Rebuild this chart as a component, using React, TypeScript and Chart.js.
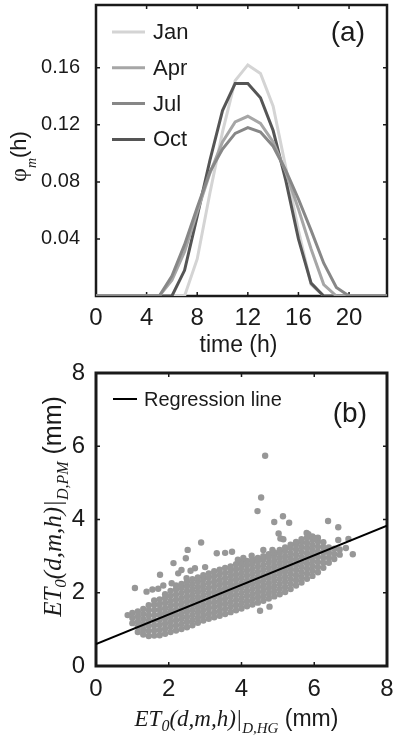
import React, { useEffect, useRef } from 'react';
import { Chart, registerables } from 'chart.js';

Chart.register(...registerables);

// ---------- panel (a) data ----------
const hours = [0, 1, 2, 3, 4, 5, 6, 7, 8, 9, 10, 11, 12, 13, 14, 15, 16, 17, 18, 19, 20, 21, 22, 23];
const janPhi = [0, 0, 0, 0, 0, 0, 0, 0, 0.026, 0.072, 0.115, 0.151, 0.162, 0.156, 0.133, 0.09, 0.046, 0.008, 0, 0, 0, 0, 0, 0];
const aprPhi = [0, 0, 0, 0, 0, 0, 0.011, 0.031, 0.059, 0.086, 0.108, 0.122, 0.126, 0.121, 0.108, 0.087, 0.061, 0.033, 0.008, 0, 0, 0, 0, 0];
const julPhi = [0, 0, 0, 0, 0, 0, 0.014, 0.036, 0.062, 0.087, 0.103, 0.114, 0.118, 0.115, 0.105, 0.088, 0.068, 0.046, 0.023, 0.006, 0, 0, 0, 0];
const octPhi = [0, 0, 0, 0, 0, 0, 0, 0.018, 0.056, 0.095, 0.13, 0.149, 0.149, 0.139, 0.116, 0.081, 0.04, 0.009, 0, 0, 0, 0, 0, 0];
const monthNames = ['Jan', 'Apr', 'Jul', 'Oct'];
const phiTicks = [0.04, 0.08, 0.12, 0.16];
const hourTicks = [0, 4, 8, 12, 16, 20];

// ---------- panel (b) data ----------
const etTicks = [0, 2, 4, 6, 8];
const regressionHg = [0, 8];
const regressionPm = [0.6, 3.83];
const cloudHg = [1.0, 1.15, 1.3, 1.45, 1.6, 1.75, 1.9, 2.05, 2.2, 2.35, 2.5, 2.65, 2.8, 2.95, 3.1, 3.25, 3.4, 3.55, 3.7, 3.85, 4.0, 4.15, 4.3, 4.45, 4.6, 4.75, 4.9, 5.05, 5.2, 5.35, 5.5, 5.65, 5.8, 5.95, 6.1, 6.25, 6.4, 6.55, 6.7];
const cloudPm = [
  [1.17, 1.31, 1.45],
  [0.93, 1.07, 1.21, 1.35, 1.49],
  [0.86, 1.0, 1.14, 1.28, 1.42, 1.56],
  [0.82, 0.96, 1.1, 1.24, 1.38, 1.52, 1.66],
  [0.83, 0.97, 1.11, 1.25, 1.39, 1.53, 1.67, 1.79],
  [0.84, 0.98, 1.12, 1.26, 1.4, 1.54, 1.68, 1.82],
  [0.88, 1.02, 1.16, 1.3, 1.44, 1.58, 1.72, 1.86, 1.96],
  [0.93, 1.07, 1.21, 1.35, 1.49, 1.63, 1.77, 1.91, 2.05],
  [0.97, 1.11, 1.25, 1.39, 1.53, 1.67, 1.81, 1.95, 2.09, 2.2],
  [1.01, 1.15, 1.29, 1.43, 1.57, 1.71, 1.85, 1.99, 2.13, 2.24],
  [1.06, 1.2, 1.34, 1.48, 1.62, 1.76, 1.9, 2.04, 2.18, 2.3],
  [1.11, 1.25, 1.39, 1.53, 1.67, 1.81, 1.95, 2.09, 2.23, 2.37],
  [1.18, 1.32, 1.46, 1.6, 1.74, 1.88, 2.02, 2.16, 2.3, 2.42],
  [1.24, 1.38, 1.52, 1.66, 1.8, 1.94, 2.08, 2.22, 2.36, 2.48],
  [1.29, 1.43, 1.57, 1.71, 1.85, 1.99, 2.13, 2.27, 2.41, 2.53],
  [1.33, 1.47, 1.61, 1.75, 1.89, 2.03, 2.17, 2.31, 2.45, 2.59],
  [1.37, 1.51, 1.65, 1.79, 1.93, 2.07, 2.21, 2.35, 2.49, 2.63],
  [1.42, 1.56, 1.7, 1.84, 1.98, 2.12, 2.26, 2.4, 2.54, 2.68],
  [1.47, 1.61, 1.75, 1.89, 2.03, 2.17, 2.31, 2.45, 2.59, 2.72],
  [1.52, 1.66, 1.8, 1.94, 2.08, 2.22, 2.36, 2.5, 2.64, 2.78],
  [1.57, 1.71, 1.85, 1.99, 2.13, 2.27, 2.41, 2.55, 2.69, 2.82],
  [1.63, 1.77, 1.91, 2.05, 2.19, 2.33, 2.47, 2.61, 2.75, 2.87],
  [1.68, 1.82, 1.96, 2.1, 2.24, 2.38, 2.52, 2.66, 2.8, 2.91],
  [1.73, 1.87, 2.01, 2.15, 2.29, 2.43, 2.57, 2.71, 2.85, 2.95],
  [1.78, 1.92, 2.06, 2.2, 2.34, 2.48, 2.62, 2.76, 2.9, 3.0],
  [1.84, 1.98, 2.12, 2.26, 2.4, 2.54, 2.68, 2.82, 2.96, 3.05],
  [1.9, 2.04, 2.18, 2.32, 2.46, 2.6, 2.74, 2.88, 3.02, 3.1],
  [1.96, 2.1, 2.24, 2.38, 2.52, 2.66, 2.8, 2.94, 3.08, 3.17],
  [2.02, 2.16, 2.3, 2.44, 2.58, 2.72, 2.86, 3.0, 3.14, 3.24],
  [2.1, 2.24, 2.38, 2.52, 2.66, 2.8, 2.94, 3.08, 3.22, 3.31],
  [2.2, 2.34, 2.48, 2.62, 2.76, 2.9, 3.04, 3.18, 3.32, 3.39],
  [2.28, 2.42, 2.56, 2.7, 2.84, 2.98, 3.12, 3.26, 3.4, 3.46],
  [2.38, 2.52, 2.66, 2.8, 2.94, 3.08, 3.22, 3.36, 3.5],
  [2.46, 2.6, 2.74, 2.88, 3.02, 3.16, 3.3, 3.44, 3.54],
  [2.56, 2.7, 2.84, 2.98, 3.12, 3.26, 3.4, 3.5],
  [2.68, 2.82, 2.96, 3.1, 3.24, 3.38],
  [2.82, 2.96, 3.1, 3.24],
  [2.92, 3.06, 3.2],
  [3.04, 3.18],
];
const sparsePoints = [
  [0.87, 1.39], [1.07, 2.13], [1.39, 2.03], [1.55, 2.09], [1.71, 2.11], [1.76, 2.49], [1.85, 2.2],
  [2.08, 2.26], [2.13, 2.81], [2.26, 2.53], [2.35, 2.62], [2.49, 2.4], [2.47, 2.94], [2.52, 3.17],
  [2.6, 2.6], [2.72, 2.67], [2.89, 3.37], [3.0, 2.7], [3.32, 3.08], [3.55, 3.09], [3.74, 3.12],
  [3.9, 2.9], [4.05, 2.95], [4.28, 3.01], [4.44, 4.23], [4.51, 1.51], [4.54, 4.6], [4.6, 3.17],
  [4.65, 5.74], [4.77, 1.62], [4.85, 3.17], [4.9, 3.93], [5.02, 3.62], [5.07, 3.48], [5.14, 4.09],
  [5.15, 3.46], [5.31, 3.91], [5.79, 3.63], [5.84, 3.6], [6.02, 3.49], [6.38, 3.96], [6.66, 3.79],
  [6.66, 3.44], [6.87, 3.22], [6.94, 3.47], [7.06, 3.05],
];

// ---------- styles ----------
const INK = '#1a1a1a';
const SANS = '"Liberation Sans", Arial, Helvetica, sans-serif';
const SERIF = '"Liberation Serif", "Times New Roman", serif';
const lineColors = ['#d4d4d4', '#a6a6a6', '#878787', '#555555'];
const lineOrder = [3, 1, 0, 2];
const DOT = '#979797';

type Seg = { text: string; font: string; dy?: number };

function drawRich(ctx: CanvasRenderingContext2D, segs: Seg[], cx: number, cy: number, rotated: boolean) {
  ctx.save();
  ctx.translate(cx, cy);
  if (rotated) ctx.rotate(-Math.PI / 2);
  ctx.fillStyle = INK;
  ctx.textAlign = 'left';
  ctx.textBaseline = 'alphabetic';
  let total = 0;
  const widths = segs.map((s) => {
    ctx.font = s.font;
    const w = ctx.measureText(s.text).width;
    total += w;
    return w;
  });
  let x = -total / 2;
  segs.forEach((s, i) => {
    ctx.font = s.font;
    ctx.fillText(s.text, x, s.dy || 0);
    x += widths[i];
  });
  ctx.restore();
}

function frameAndTicks(ctx: CanvasRenderingContext2D, chart: any, lw: number) {
  const a = chart.chartArea;
  const sx = chart.scales.x;
  const sy = chart.scales.y;
  ctx.save();
  ctx.strokeStyle = INK;
  ctx.lineWidth = lw;
  ctx.strokeRect(a.left, a.top, a.right - a.left, a.bottom - a.top);
  ctx.lineWidth = 1.5;
  ctx.beginPath();
  sx.ticks.forEach((t: any) => {
    const p = sx.getPixelForValue(t.value);
    ctx.moveTo(p, a.bottom);
    ctx.lineTo(p, a.bottom - 4);
    ctx.moveTo(p, a.top);
    ctx.lineTo(p, a.top + 4);
  });
  sy.ticks.forEach((t: any) => {
    const p = sy.getPixelForValue(t.value);
    ctx.moveTo(a.left, p);
    ctx.lineTo(a.left + 4, p);
    ctx.moveTo(a.right, p);
    ctx.lineTo(a.right - 4, p);
  });
  ctx.stroke();
  ctx.restore();
}

const decorA = {
  id: 'decorA',
  beforeDatasetsDraw(chart: any) {
    frameAndTicks(chart.ctx, chart, 2.5);
  },
  afterDraw(chart: any) {
    const ctx = chart.ctx as CanvasRenderingContext2D;
    const a = chart.chartArea;
    ctx.save();
    monthNames.forEach((name, i) => {
      const y = a.top + 27 + i * 35.8;
      ctx.strokeStyle = lineColors[i];
      ctx.lineWidth = 3;
      ctx.beginPath();
      ctx.moveTo(a.left + 16, y);
      ctx.lineTo(a.left + 49, y);
      ctx.stroke();
      ctx.fillStyle = INK;
      ctx.font = `22px ${SANS}`;
      ctx.textAlign = 'left';
      ctx.textBaseline = 'middle';
      ctx.fillText(name, a.left + 57, y + 1);
    });
    ctx.fillStyle = INK;
    ctx.font = `28px ${SANS}`;
    ctx.textAlign = 'right';
    ctx.textBaseline = 'middle';
    ctx.fillText('(a)', a.right - 22, a.top + 28);
    ctx.restore();
    drawRich(ctx, [{ text: 'time (h)', font: `23px ${SANS}` }], (a.left + a.right) / 2 - 3, a.bottom + 56, false);
    drawRich(
      ctx,
      [
        { text: 'φ', font: `24px ${SERIF}` },
        { text: 'm', font: `italic 14px ${SERIF}`, dy: 10 },
        { text: '(h)', font: `22px ${SANS}` },
      ],
      26,
      (a.top + a.bottom) / 2 + 6,
      true
    );
  },
};

const decorB = {
  id: 'decorB',
  beforeDatasetsDraw(chart: any) {
    frameAndTicks(chart.ctx, chart, 3);
  },
  afterDraw(chart: any) {
    const ctx = chart.ctx as CanvasRenderingContext2D;
    const a = chart.chartArea;
    ctx.save();
    const y = a.top + 26;
    ctx.strokeStyle = '#000';
    ctx.lineWidth = 2;
    ctx.beginPath();
    ctx.moveTo(a.left + 17, y);
    ctx.lineTo(a.left + 41, y);
    ctx.stroke();
    ctx.fillStyle = INK;
    ctx.font = `20px ${SANS}`;
    ctx.textAlign = 'left';
    ctx.textBaseline = 'middle';
    ctx.fillText('Regression line', a.left + 48, y + 1);
    ctx.font = `28px ${SANS}`;
    ctx.textAlign = 'right';
    ctx.fillText('(b)', a.right - 20, a.top + 41);
    ctx.restore();
    const ital = `italic 23px ${SERIF}`;
    drawRich(
      ctx,
      [
        { text: 'ET', font: ital },
        { text: '0', font: `italic 16px ${SERIF}`, dy: 5 },
        { text: '(d,m,h)|', font: ital },
        { text: 'D,HG', font: `italic 15px ${SERIF}`, dy: 7 },
        { text: ' (mm)', font: `23px ${SANS}` },
      ],
      (a.left + a.right) / 2 - 5,
      a.bottom + 60,
      false
    );
    const italY = `italic 25px ${SERIF}`;
    drawRich(
      ctx,
      [
        { text: 'ET', font: italY },
        { text: '0', font: `italic 17px ${SERIF}`, dy: 5 },
        { text: '(d,m,h)|', font: italY },
        { text: 'D,PM', font: `italic 16px ${SERIF}`, dy: 7 },
        { text: ' (mm)', font: `25px ${SANS}` },
      ],
      61,
      (a.top + a.bottom) / 2 - 13,
      true
    );
  },
};

function tickList(values: number[]) {
  return (scale: any) => {
    scale.ticks = values.map((v) => ({ value: v }));
  };
}

function fixX(h: number) {
  return (scale: any) => {
    scale.height = h;
    scale.paddingLeft = 0;
    scale.paddingRight = 0;
  };
}

function fixY(w: number) {
  return (scale: any) => {
    scale.width = w;
    scale.paddingTop = 0;
    scale.paddingBottom = 0;
  };
}

const noGrid = { display: false, drawTicks: false, tickLength: 0 };

function PanelA() {
  const ref = useRef<HTMLCanvasElement>(null);
  useEffect(() => {
    const series = [janPhi, aprPhi, julPhi, octPhi];
    const chart = new Chart(ref.current as HTMLCanvasElement, {
      type: 'line',
      data: {
        datasets: series.map((vals, i) => ({
          label: monthNames[i],
          data: hours.map((h, k) => ({ x: h, y: vals[k] })),
          borderColor: lineColors[i],
          borderWidth: 3,
          pointRadius: 0,
          tension: 0,
          fill: false,
          order: lineOrder[i],
        })),
      },
      options: {
        responsive: false,
        animation: false,
        layout: { padding: { top: 5, right: 6, left: 0, bottom: 0 } },
        plugins: { legend: { display: false }, tooltip: { enabled: false } },
        scales: {
          x: {
            type: 'linear',
            min: 0,
            max: 23,
            afterBuildTicks: tickList(hourTicks),
            afterFit: fixX(74),
            grid: noGrid,
            border: { display: false },
            ticks: { color: INK, font: { family: SANS, size: 24 }, padding: 8, maxRotation: 0, autoSkip: false, callback: (v: any) => String(v) },
          },
          y: {
            type: 'linear',
            min: 0,
            max: 0.204,
            afterBuildTicks: tickList(phiTicks),
            afterFit: fixY(96),
            grid: noGrid,
            border: { display: false },
            ticks: { color: INK, font: { family: SANS, size: 20 }, padding: 16, autoSkip: false, callback: (v: any) => Number(v).toFixed(2) },
          },
        },
      } as any,
      plugins: [decorA],
    });
    return () => chart.destroy();
  }, []);
  return <canvas ref={ref} width={393} height={370} style={{ position: 'absolute', left: 0, top: 0 }} />;
}

function PanelB() {
  const ref = useRef<HTMLCanvasElement>(null);
  useEffect(() => {
    const cloud: { x: number; y: number }[] = [];
    cloudHg.forEach((x, i) => cloudPm[i].forEach((y) => cloud.push({ x, y })));
    sparsePoints.forEach(([x, y]) => cloud.push({ x, y }));
    const chart = new Chart(ref.current as HTMLCanvasElement, {
      type: 'scatter',
      data: {
        datasets: [
          {
            label: 'Regression line',
            data: regressionHg.map((x, i) => ({ x, y: regressionPm[i] })),
            showLine: true,
            borderColor: '#000',
            borderWidth: 2,
            pointRadius: 0,
            order: 0,
          },
          {
            label: 'ET0',
            data: cloud,
            pointRadius: 3.2,
            pointBorderWidth: 0,
            backgroundColor: DOT,
            borderColor: DOT,
            order: 1,
          },
        ],
      },
      options: {
        responsive: false,
        animation: false,
        layout: { padding: { top: 18, right: 6, left: 0, bottom: 0 } },
        plugins: { legend: { display: false }, tooltip: { enabled: false } },
        scales: {
          x: {
            type: 'linear',
            min: 0,
            max: 8,
            afterBuildTicks: tickList(etTicks),
            afterFit: fixX(74),
            grid: noGrid,
            border: { display: false },
            ticks: { color: INK, font: { family: SANS, size: 24 }, padding: 9, maxRotation: 0, autoSkip: false, callback: (v: any) => String(v) },
          },
          y: {
            type: 'linear',
            min: 0,
            max: 8,
            afterBuildTicks: tickList(etTicks),
            afterFit: fixY(96),
            grid: noGrid,
            border: { display: false },
            ticks: { color: INK, font: { family: SANS, size: 24 }, padding: 11, autoSkip: false, callback: (v: any) => String(v) },
          },
        },
      } as any,
      plugins: [decorB],
    });
    return () => chart.destroy();
  }, []);
  return <canvas ref={ref} width={393} height={385} style={{ position: 'absolute', left: 0, top: 355 }} />;
}

export default function App() {
  return (
    <div style={{ position: 'absolute', left: 0, top: 0, width: 393, height: 740, background: '#fff' }}>
      <PanelA />
      <PanelB />
    </div>
  );
}
